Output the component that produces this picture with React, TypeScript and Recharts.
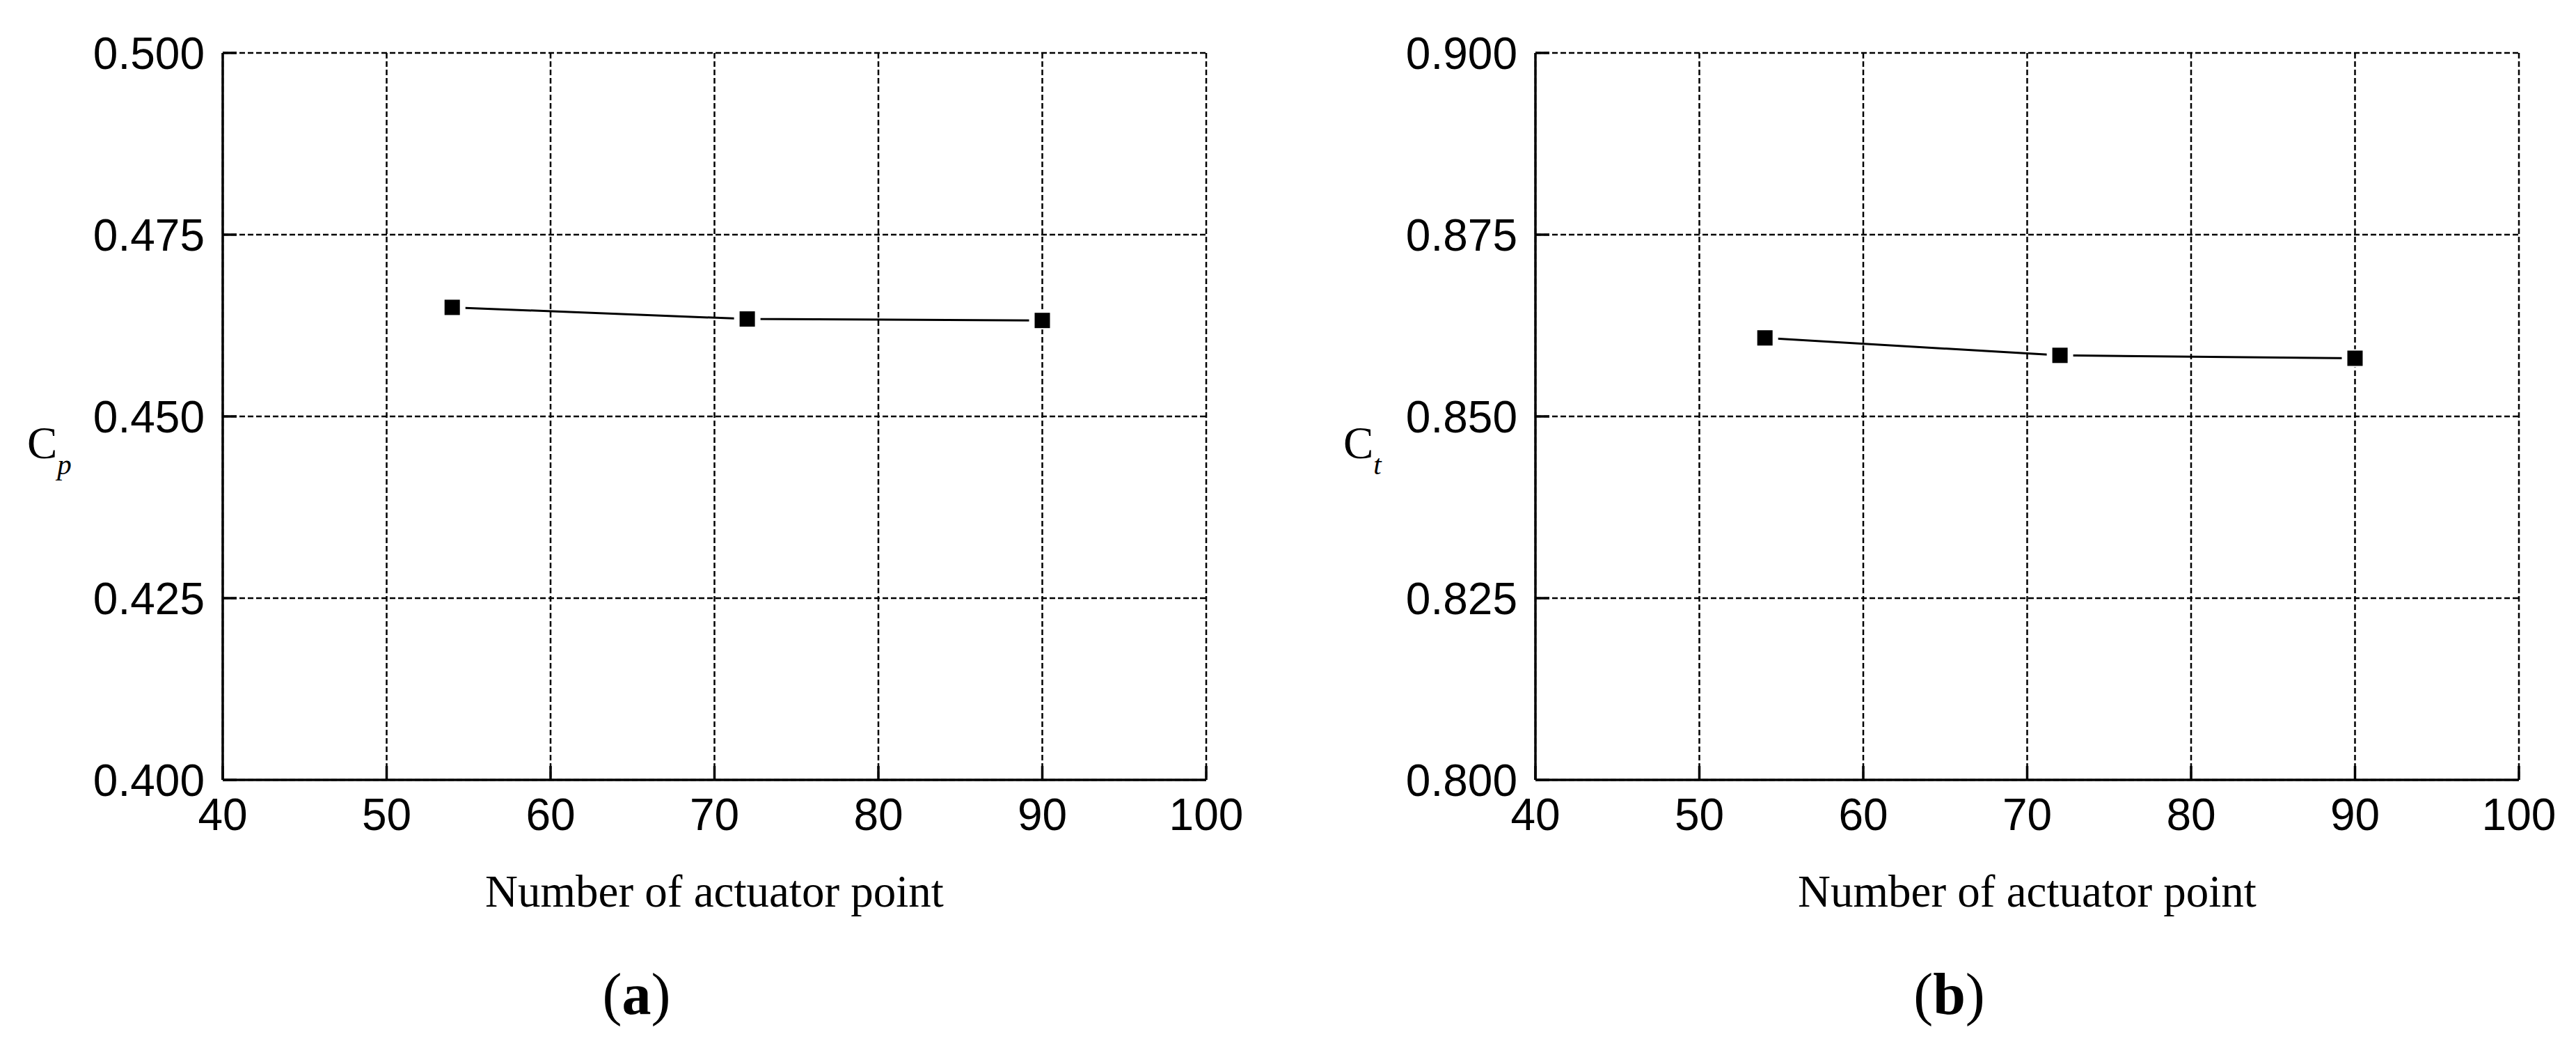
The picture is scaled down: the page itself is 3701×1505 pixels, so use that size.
import React from 'react';
import { LineChart, Line, XAxis, YAxis, CartesianGrid, Label } from 'recharts';

const actuatorPoints = [54, 72, 90];
const cpValues = [0.465, 0.4634, 0.4632];
const ctValues = [0.8608, 0.8584, 0.858];
const xTicks = [40, 50, 60, 70, 80, 90, 100];
const cpTicks = [0.4, 0.425, 0.45, 0.475, 0.5];
const ctTicks = [0.8, 0.825, 0.85, 0.875, 0.9];
const xTitle = 'Number of actuator point';

const SANS = '"Liberation Sans", Arial, sans-serif';
const SERIF = '"Liberation Serif", "Times New Roman", serif';

function SquareDot(props: any) {
  const { cx, cy } = props;
  if (cx == null || cy == null) return <g />;
  return (
    <g>
      <rect x={cx - 19} y={cy - 13} width={38} height={26} fill="#fff" />
      <rect x={cx - 11} y={cy - 11} width={22} height={22} fill="#000" />
    </g>
  );
}

const EmptyTick = () => <g />;

type PanelProps = {
  values: number[];
  yTicks: number[];
  sub: string;
  tag: string;
  left: number;
  width: number;
  margin: { top: number; left: number; right: number; bottom: number };
  ylabelOffset: number;
};

function Panel({ values, yTicks, sub, tag, left, width, margin, ylabelOffset }: PanelProps) {
  const data = actuatorPoints.map((n, i) => ({ n, v: values[i] }));
  const tickStyle = { fill: '#000', fontSize: 64, fontFamily: SANS };
  const axisLine = { stroke: '#000', strokeWidth: 3.5 };
  const domainY = [yTicks[0], yTicks[yTicks.length - 1]];
  return (
    <div style={{ position: 'absolute', left, top: 0 }}>
      <LineChart width={width} height={1505} data={data} margin={margin}>
        <CartesianGrid stroke="#000" strokeWidth={2.5} strokeDasharray="8 4" />
        <Line
          type="linear"
          dataKey="v"
          stroke="#000"
          strokeWidth={3}
          dot={SquareDot}
          activeDot={false}
          isAnimationActive={false}
        />
        <XAxis
          dataKey="n"
          type="number"
          domain={[40, 100]}
          ticks={xTicks}
          interval={0}
          orientation="bottom"
          height={60}
          axisLine={axisLine}
          tickLine={axisLine}
          tickSize={-20}
          tickMargin={47}
          tick={tickStyle}
        >
          <Label
            content={(p: any) => {
              const vb = p.viewBox || {};
              return (
                <text
                  x={vb.x + vb.width / 2}
                  y={vb.y + 182}
                  textAnchor="middle"
                  fontFamily={SERIF}
                  fontSize={65}
                  fill="#000"
                >
                  {xTitle}
                </text>
              );
            }}
          />
          <Label
            content={(p: any) => {
              const vb = p.viewBox || {};
              return (
                <text
                  x={vb.x + vb.width / 2 - 112}
                  y={vb.y + 336}
                  textAnchor="middle"
                  fontFamily={SERIF}
                  fontSize={84}
                  fill="#000"
                >
                  (<tspan fontWeight="bold">{tag}</tspan>)
                </text>
              );
            }}
          />
        </XAxis>
        <XAxis
          xAxisId="top"
          dataKey="n"
          type="number"
          domain={[40, 100]}
          ticks={xTicks}
          interval={0}
          orientation="top"
          height={0}
          axisLine={axisLine}
          tickLine={axisLine}
          tickSize={-20}
          tick={EmptyTick}
        />
        <YAxis
          type="number"
          domain={domainY}
          ticks={yTicks}
          interval={0}
          width={200}
          axisLine={axisLine}
          tickLine={axisLine}
          tickSize={-20}
          tickMargin={46}
          tick={tickStyle}
          tickFormatter={(v: number) => v.toFixed(3)}
        >
          <Label
            content={(p: any) => {
              const vb = p.viewBox || {};
              const ax = vb.x + vb.width;
              const cy = vb.y + vb.height / 2;
              return (
                <text x={ax - ylabelOffset} y={cy + 60} fontFamily={SERIF} fontSize={65} fill="#000">
                  C
                  <tspan fontStyle="italic" fontSize={41} dy={23}>
                    {sub}
                  </tspan>
                </text>
              );
            }}
          />
        </YAxis>
        <YAxis
          yAxisId="right"
          orientation="right"
          type="number"
          domain={domainY}
          ticks={yTicks}
          interval={0}
          width={0}
          axisLine={axisLine}
          tickLine={axisLine}
          tickSize={-20}
          tick={EmptyTick}
        />
      </LineChart>
    </div>
  );
}

export default function App() {
  return (
    <div style={{ position: 'absolute', left: 0, top: 0, width: 3701, height: 1505, background: '#fff' }}>
      <Panel
        values={cpValues}
        yTicks={cpTicks}
        sub="p"
        tag="a"
        left={0}
        width={1850}
        margin={{ top: 76, left: 120, right: 117, bottom: 325 }}
        ylabelOffset={281}
      />
      <Panel
        values={ctValues}
        yTicks={ctTicks}
        sub="t"
        tag="b"
        left={1850}
        width={1851}
        margin={{ top: 76, left: 156, right: 82, bottom: 325 }}
        ylabelOffset={276}
      />
    </div>
  );
}
